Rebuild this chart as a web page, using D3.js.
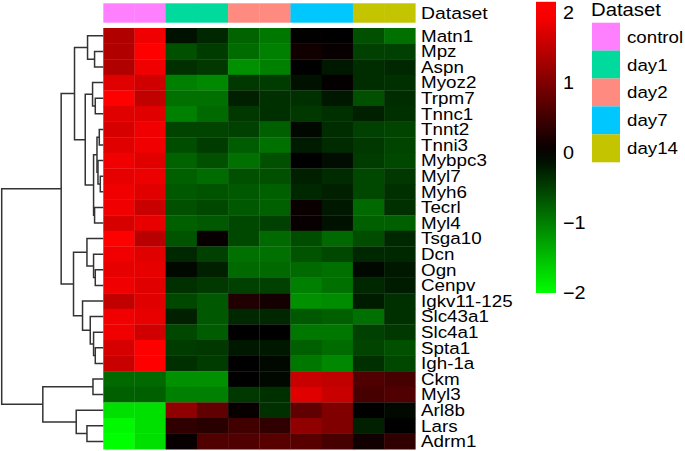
<!DOCTYPE html>
<html>
<head>
<meta charset="UTF-8">
<title>Heatmap</title>
<script src="https://d3js.org/d3.v7.min.js"></script>
<style>
  body { margin: 0; background: #fff; }
  svg { display: block; font-family: "Liberation Sans", Arial, sans-serif; }
</style>
</head>
<body>
<svg id="chart" width="685" height="451"></svg>
<script>
const genes = ["Matn1", "Mpz", "Aspn", "Myoz2", "Trpm7", "Tnnc1", "Tnnt2", "Tnni3", "Mybpc3",
  "Myl7", "Myh6", "Tecrl", "Myl4", "Tsga10", "Dcn", "Ogn", "Cenpv", "Igkv11-125", "Slc43a1",
  "Slc4a1", "Spta1", "Igh-1a", "Ckm", "Myl3", "Arl8b", "Lars", "Adrm1"];
const samples = ["control_1", "control_2", "day1_1", "day1_2", "day2_1", "day2_2",
  "day7_1", "day7_2", "day14_1", "day14_2"];
const sampleDataset = ["control", "control", "day1", "day1", "day2", "day2", "day7", "day7", "day14", "day14"];
const datasets = ["control", "day1", "day2", "day7", "day14"];
const datasetColors = ["#FF80FF", "#00DA9C", "#FF8A80", "#00C8FF", "#C4C400"];

// scaled expression, one row per gene, one column per sample
const values = [
  [1.38, 1.88, -0.13, -0.31, -0.78, -0.94, 0.02, 0.0, -0.63, -0.88],
  [1.38, 2.0, -0.63, -0.47, -0.85, -1.0, 0.13, 0.06, -0.5, -0.5],
  [1.38, 1.88, -0.38, -0.44, -1.13, -1.0, 0.0, -0.19, -0.35, -0.31],
  [1.76, 1.63, -1.0, -1.07, -0.44, -0.47, -0.13, 0.04, -0.35, -0.38],
  [2.0, 1.51, -0.88, -0.88, -0.25, -0.38, -0.38, -0.19, -0.63, -0.35],
  [1.76, 1.76, -1.0, -0.82, -0.44, -0.38, -0.44, -0.38, -0.25, -0.38],
  [1.69, 1.88, -0.53, -0.53, -0.5, -0.75, -0.06, -0.35, -0.5, -0.53],
  [1.76, 1.88, -0.6, -0.47, -0.72, -0.88, -0.22, -0.33, -0.44, -0.53],
  [1.88, 1.76, -0.78, -0.63, -0.88, -0.63, 0.0, -0.1, -0.47, -0.56],
  [1.8, 1.85, -0.75, -0.85, -0.63, -0.63, -0.25, -0.33, -0.56, -0.44],
  [1.88, 1.76, -0.69, -0.66, -0.69, -0.75, -0.31, -0.25, -0.56, -0.38],
  [1.88, 1.57, -0.63, -0.56, -0.69, -0.75, 0.08, -0.19, -0.82, -0.38],
  [1.69, 1.82, -0.75, -0.69, -0.56, -0.5, 0.06, -0.13, -0.75, -0.75],
  [2.0, 1.44, -0.66, 0.06, -0.56, -0.82, -0.6, -0.82, -0.6, -0.31],
  [1.88, 1.76, -0.31, -0.5, -0.88, -0.88, -0.66, -0.56, -0.31, -0.31],
  [1.8, 1.8, -0.06, -0.25, -0.82, -0.82, -0.82, -0.88, -0.06, -0.19],
  [1.88, 1.76, -0.38, -0.44, -0.5, -0.5, -1.0, -0.88, -0.31, -0.22],
  [1.51, 1.76, -0.56, -0.69, 0.25, 0.16, -1.13, -1.1, -0.22, -0.38],
  [1.88, 1.82, -0.25, -0.69, -0.31, -0.31, -0.69, -0.75, -0.88, -0.38],
  [1.88, 1.63, -0.56, -0.72, 0.0, 0.0, -0.94, -0.94, -0.5, -0.44],
  [1.69, 2.0, -0.47, -0.44, -0.19, -0.19, -0.75, -0.85, -0.53, -0.63],
  [1.57, 2.0, -0.38, -0.47, 0.0, -0.06, -0.94, -1.07, -0.38, -0.56],
  [-0.82, -0.82, -1.13, -1.13, 0.0, -0.06, 1.57, 1.51, 0.63, 0.56],
  [-0.75, -0.75, -1.0, -1.0, -0.44, -0.38, 1.76, 1.57, 0.56, 0.63],
  [-1.76, -1.76, 1.13, 0.75, 0.06, -0.38, 0.75, 1.0, 0.0, -0.06],
  [-1.95, -1.76, 0.38, 0.31, 0.5, 0.38, 1.13, 1.0, -0.25, 0.0],
  [-2.0, -1.76, 0.06, 0.63, 0.63, 0.69, 0.69, 0.56, 0.13, 0.38]
];

// row clustering: [merge height, left, right], leaves are row indices
const rowTree = [101.3,
  [42,
    [28.7,
      [15.7, 0, [8.7, 1, 2]],
      [18,
        [10.7, 3, [8, 4, 5]],
        [9.7, [6.3, [4, 6, 7], [5.3, 8, [3, 9, 10]]], [8.7, 11, 12]]]],
    [29.7,
      [16.3, 13, [9.7, 14, [8, 15, 16]]],
      [20.7, 17, [13, 18, [9.7, 19, [8, 20, 21]]]]]],
  [60.3, [10.3, 22, 23], [27, 24, [16.3, 25, 26]]]];

const legendTicks = [2, 1, 0, -1, -2];
const colorDomain = [-2, 0, 2];
const colorRange = ["#00FF00", "#000000", "#FF0000"];

const svg = d3.select("#chart");
const color = d3.scaleLinear().domain(colorDomain).range(colorRange).clamp(true);

const x = d3.scaleBand().domain(samples).range([103.3, 415.3]);
const y = d3.scaleBand().domain(genes).range([28, 449.2]);

// the reference glyphs are a bit wider than Liberation Sans
function label(sel, px, py, size, sx) {
  return sel.attr("transform", (d, i) => `translate(${px(d, i)},${py(d, i)}) scale(${sx},1)`)
    .attr("dy", "0.35em").attr("font-size", size);
}

// annotation bar
svg.append("g").selectAll("rect").data(samples).join("rect")
  .attr("x", d => x(d)).attr("y", 3.3)
  .attr("width", x.bandwidth() + 0.3).attr("height", 19.4)
  .attr("fill", (d, i) => datasetColors[datasets.indexOf(sampleDataset[i])]);
label(svg.append("text").datum("Dataset"), () => 421, () => 13.5, 17, 1.14).text("Dataset");

// cells
const cells = [];
values.forEach((row, r) => row.forEach((v, c) => cells.push({ gene: genes[r], sample: samples[c], v })));
svg.append("g").selectAll("rect").data(cells).join("rect")
  .attr("x", d => x(d.sample)).attr("y", d => y(d.gene))
  .attr("width", x.bandwidth() + 0.3).attr("height", y.bandwidth() + 0.3)
  .attr("fill", d => color(d.v));

// gene labels
label(svg.append("g").selectAll("text").data(genes).join("text"),
  () => 421, d => y(d) + y.bandwidth() / 2, 16.5, 1.14).text(d => d);

// dendrogram
const xd = d3.scaleLinear().domain([0, 101.3]).range([103.3, 1.7]);
const root = d3.hierarchy(rowTree, d => Array.isArray(d) ? d.slice(1) : null);
root.eachAfter(n => {
  if (n.children) {
    n.py = d3.mean(n.children, c => c.py);
    n.px = xd(n.data[0]);
  } else {
    n.py = y(genes[n.data]) + y.bandwidth() / 2;
    n.px = xd(0);
  }
});
svg.append("g").selectAll("path")
  .data(root.descendants().filter(n => n.children)).join("path")
  .attr("fill", "none").attr("stroke", "#333").attr("stroke-width", 1.5)
  .attr("d", n => {
    const [a, b] = n.children;
    return `M${a.px},${a.py}H${n.px}V${b.py}H${b.px}`;
  });

// colour legend
const ly = d3.scaleLinear().domain([-2, 2]).range([293, 13]);
const grad = svg.append("defs").append("linearGradient").attr("id", "lg")
  .attr("x1", 0).attr("x2", 0).attr("y1", 1).attr("y2", 0);
d3.range(0, 1.0001, 0.05).forEach(t => {
  const v = -2 + t * 4.16;
  grad.append("stop").attr("offset", t).attr("stop-color", color(v));
});
svg.append("rect").attr("x", 536).attr("y", ly(2.16)).attr("width", 20)
  .attr("height", ly(-2) - ly(2.16)).attr("fill", "url(#lg)");
const fmt = d3.format("d");
label(svg.append("g").selectAll("text").data(legendTicks).join("text"),
  () => 563, d => ly(d), 18, 1.1).text(d => fmt(d));

// dataset legend
const lg = svg.append("g");
label(lg.append("text").datum("Dataset"), () => 591, () => 10, 17.5, 1.16).text("Dataset");
lg.selectAll("rect").data(datasets).join("rect")
  .attr("x", 592).attr("y", (d, i) => 22.7 + i * 27.9)
  .attr("width", 28).attr("height", 28)
  .attr("fill", (d, i) => datasetColors[i]);
label(lg.selectAll("text.item").data(datasets).join("text").attr("class", "item"),
  () => 627, (d, i) => 22.7 + i * 27.9 + 14, 17, 1.1).text(d => d);
</script>
</body>
</html>
